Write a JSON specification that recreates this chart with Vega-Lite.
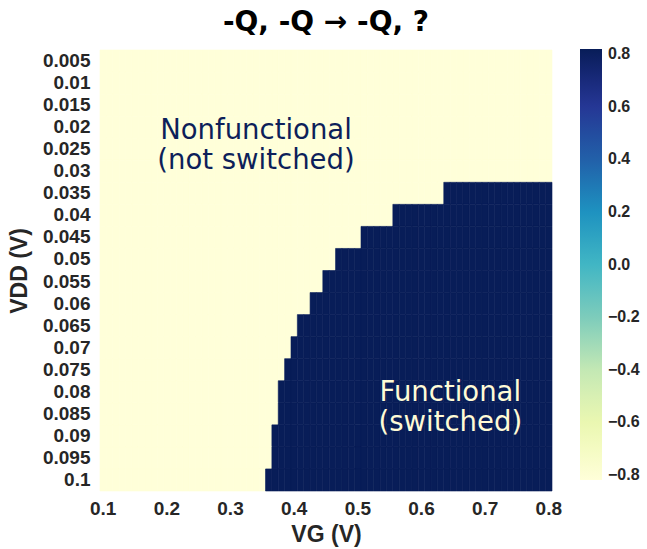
{
"$schema": "https://vega.github.io/schema/vega-lite/v6.json",
"width": 452,
"height": 441,
"autosize": "none",
"padding": {"left": 100, "top": 50, "right": 95, "bottom": 58},
"background": "white",
"config": {"view": {"stroke": null}},
"title": {"text": "-Q, -Q → -Q, ?", "font": "DejaVu Sans", "fontSize": 28, "fontWeight": "bold", "color": "black", "anchor": "middle", "offset": 12},
"layer": [
{
"data": {"values": [
{"vg":0.1,"vdd":0.005,"z":-0.82},{"vg":0.11,"vdd":0.005,"z":-0.82},{"vg":0.12,"vdd":0.005,"z":-0.82},{"vg":0.13,"vdd":0.005,"z":-0.82},{"vg":0.14,"vdd":0.005,"z":-0.82},{"vg":0.15,"vdd":0.005,"z":-0.82},{"vg":0.16,"vdd":0.005,"z":-0.82},{"vg":0.17,"vdd":0.005,"z":-0.82},{"vg":0.18,"vdd":0.005,"z":-0.82},{"vg":0.19,"vdd":0.005,"z":-0.82},
{"vg":0.2,"vdd":0.005,"z":-0.82},{"vg":0.21,"vdd":0.005,"z":-0.82},{"vg":0.22,"vdd":0.005,"z":-0.82},{"vg":0.23,"vdd":0.005,"z":-0.82},{"vg":0.24,"vdd":0.005,"z":-0.82},{"vg":0.25,"vdd":0.005,"z":-0.82},{"vg":0.26,"vdd":0.005,"z":-0.82},{"vg":0.27,"vdd":0.005,"z":-0.82},{"vg":0.28,"vdd":0.005,"z":-0.82},{"vg":0.29,"vdd":0.005,"z":-0.82},
{"vg":0.3,"vdd":0.005,"z":-0.82},{"vg":0.31,"vdd":0.005,"z":-0.82},{"vg":0.32,"vdd":0.005,"z":-0.82},{"vg":0.33,"vdd":0.005,"z":-0.82},{"vg":0.34,"vdd":0.005,"z":-0.82},{"vg":0.35,"vdd":0.005,"z":-0.82},{"vg":0.36,"vdd":0.005,"z":-0.82},{"vg":0.37,"vdd":0.005,"z":-0.82},{"vg":0.38,"vdd":0.005,"z":-0.82},{"vg":0.39,"vdd":0.005,"z":-0.82},
{"vg":0.4,"vdd":0.005,"z":-0.82},{"vg":0.41,"vdd":0.005,"z":-0.82},{"vg":0.42,"vdd":0.005,"z":-0.82},{"vg":0.43,"vdd":0.005,"z":-0.82},{"vg":0.44,"vdd":0.005,"z":-0.82},{"vg":0.45,"vdd":0.005,"z":-0.82},{"vg":0.46,"vdd":0.005,"z":-0.82},{"vg":0.47,"vdd":0.005,"z":-0.82},{"vg":0.48,"vdd":0.005,"z":-0.82},{"vg":0.49,"vdd":0.005,"z":-0.82},
{"vg":0.5,"vdd":0.005,"z":-0.82},{"vg":0.51,"vdd":0.005,"z":-0.82},{"vg":0.52,"vdd":0.005,"z":-0.82},{"vg":0.53,"vdd":0.005,"z":-0.82},{"vg":0.54,"vdd":0.005,"z":-0.82},{"vg":0.55,"vdd":0.005,"z":-0.82},{"vg":0.56,"vdd":0.005,"z":-0.82},{"vg":0.57,"vdd":0.005,"z":-0.82},{"vg":0.58,"vdd":0.005,"z":-0.82},{"vg":0.59,"vdd":0.005,"z":-0.82},
{"vg":0.6,"vdd":0.005,"z":-0.82},{"vg":0.61,"vdd":0.005,"z":-0.82},{"vg":0.62,"vdd":0.005,"z":-0.82},{"vg":0.63,"vdd":0.005,"z":-0.82},{"vg":0.64,"vdd":0.005,"z":-0.82},{"vg":0.65,"vdd":0.005,"z":-0.82},{"vg":0.66,"vdd":0.005,"z":-0.82},{"vg":0.67,"vdd":0.005,"z":-0.82},{"vg":0.68,"vdd":0.005,"z":-0.82},{"vg":0.69,"vdd":0.005,"z":-0.82},
{"vg":0.7,"vdd":0.005,"z":-0.82},{"vg":0.71,"vdd":0.005,"z":-0.82},{"vg":0.72,"vdd":0.005,"z":-0.82},{"vg":0.73,"vdd":0.005,"z":-0.82},{"vg":0.74,"vdd":0.005,"z":-0.82},{"vg":0.75,"vdd":0.005,"z":-0.82},{"vg":0.76,"vdd":0.005,"z":-0.82},{"vg":0.77,"vdd":0.005,"z":-0.82},{"vg":0.78,"vdd":0.005,"z":-0.82},{"vg":0.79,"vdd":0.005,"z":-0.82},{"vg":0.8,"vdd":0.005,"z":-0.82},
{"vg":0.1,"vdd":0.01,"z":-0.82},{"vg":0.11,"vdd":0.01,"z":-0.82},{"vg":0.12,"vdd":0.01,"z":-0.82},{"vg":0.13,"vdd":0.01,"z":-0.82},{"vg":0.14,"vdd":0.01,"z":-0.82},{"vg":0.15,"vdd":0.01,"z":-0.82},{"vg":0.16,"vdd":0.01,"z":-0.82},{"vg":0.17,"vdd":0.01,"z":-0.82},{"vg":0.18,"vdd":0.01,"z":-0.82},{"vg":0.19,"vdd":0.01,"z":-0.82},
{"vg":0.2,"vdd":0.01,"z":-0.82},{"vg":0.21,"vdd":0.01,"z":-0.82},{"vg":0.22,"vdd":0.01,"z":-0.82},{"vg":0.23,"vdd":0.01,"z":-0.82},{"vg":0.24,"vdd":0.01,"z":-0.82},{"vg":0.25,"vdd":0.01,"z":-0.82},{"vg":0.26,"vdd":0.01,"z":-0.82},{"vg":0.27,"vdd":0.01,"z":-0.82},{"vg":0.28,"vdd":0.01,"z":-0.82},{"vg":0.29,"vdd":0.01,"z":-0.82},
{"vg":0.3,"vdd":0.01,"z":-0.82},{"vg":0.31,"vdd":0.01,"z":-0.82},{"vg":0.32,"vdd":0.01,"z":-0.82},{"vg":0.33,"vdd":0.01,"z":-0.82},{"vg":0.34,"vdd":0.01,"z":-0.82},{"vg":0.35,"vdd":0.01,"z":-0.82},{"vg":0.36,"vdd":0.01,"z":-0.82},{"vg":0.37,"vdd":0.01,"z":-0.82},{"vg":0.38,"vdd":0.01,"z":-0.82},{"vg":0.39,"vdd":0.01,"z":-0.82},
{"vg":0.4,"vdd":0.01,"z":-0.82},{"vg":0.41,"vdd":0.01,"z":-0.82},{"vg":0.42,"vdd":0.01,"z":-0.82},{"vg":0.43,"vdd":0.01,"z":-0.82},{"vg":0.44,"vdd":0.01,"z":-0.82},{"vg":0.45,"vdd":0.01,"z":-0.82},{"vg":0.46,"vdd":0.01,"z":-0.82},{"vg":0.47,"vdd":0.01,"z":-0.82},{"vg":0.48,"vdd":0.01,"z":-0.82},{"vg":0.49,"vdd":0.01,"z":-0.82},
{"vg":0.5,"vdd":0.01,"z":-0.82},{"vg":0.51,"vdd":0.01,"z":-0.82},{"vg":0.52,"vdd":0.01,"z":-0.82},{"vg":0.53,"vdd":0.01,"z":-0.82},{"vg":0.54,"vdd":0.01,"z":-0.82},{"vg":0.55,"vdd":0.01,"z":-0.82},{"vg":0.56,"vdd":0.01,"z":-0.82},{"vg":0.57,"vdd":0.01,"z":-0.82},{"vg":0.58,"vdd":0.01,"z":-0.82},{"vg":0.59,"vdd":0.01,"z":-0.82},
{"vg":0.6,"vdd":0.01,"z":-0.82},{"vg":0.61,"vdd":0.01,"z":-0.82},{"vg":0.62,"vdd":0.01,"z":-0.82},{"vg":0.63,"vdd":0.01,"z":-0.82},{"vg":0.64,"vdd":0.01,"z":-0.82},{"vg":0.65,"vdd":0.01,"z":-0.82},{"vg":0.66,"vdd":0.01,"z":-0.82},{"vg":0.67,"vdd":0.01,"z":-0.82},{"vg":0.68,"vdd":0.01,"z":-0.82},{"vg":0.69,"vdd":0.01,"z":-0.82},
{"vg":0.7,"vdd":0.01,"z":-0.82},{"vg":0.71,"vdd":0.01,"z":-0.82},{"vg":0.72,"vdd":0.01,"z":-0.82},{"vg":0.73,"vdd":0.01,"z":-0.82},{"vg":0.74,"vdd":0.01,"z":-0.82},{"vg":0.75,"vdd":0.01,"z":-0.82},{"vg":0.76,"vdd":0.01,"z":-0.82},{"vg":0.77,"vdd":0.01,"z":-0.82},{"vg":0.78,"vdd":0.01,"z":-0.82},{"vg":0.79,"vdd":0.01,"z":-0.82},{"vg":0.8,"vdd":0.01,"z":-0.82},
{"vg":0.1,"vdd":0.015,"z":-0.82},{"vg":0.11,"vdd":0.015,"z":-0.82},{"vg":0.12,"vdd":0.015,"z":-0.82},{"vg":0.13,"vdd":0.015,"z":-0.82},{"vg":0.14,"vdd":0.015,"z":-0.82},{"vg":0.15,"vdd":0.015,"z":-0.82},{"vg":0.16,"vdd":0.015,"z":-0.82},{"vg":0.17,"vdd":0.015,"z":-0.82},{"vg":0.18,"vdd":0.015,"z":-0.82},{"vg":0.19,"vdd":0.015,"z":-0.82},
{"vg":0.2,"vdd":0.015,"z":-0.82},{"vg":0.21,"vdd":0.015,"z":-0.82},{"vg":0.22,"vdd":0.015,"z":-0.82},{"vg":0.23,"vdd":0.015,"z":-0.82},{"vg":0.24,"vdd":0.015,"z":-0.82},{"vg":0.25,"vdd":0.015,"z":-0.82},{"vg":0.26,"vdd":0.015,"z":-0.82},{"vg":0.27,"vdd":0.015,"z":-0.82},{"vg":0.28,"vdd":0.015,"z":-0.82},{"vg":0.29,"vdd":0.015,"z":-0.82},
{"vg":0.3,"vdd":0.015,"z":-0.82},{"vg":0.31,"vdd":0.015,"z":-0.82},{"vg":0.32,"vdd":0.015,"z":-0.82},{"vg":0.33,"vdd":0.015,"z":-0.82},{"vg":0.34,"vdd":0.015,"z":-0.82},{"vg":0.35,"vdd":0.015,"z":-0.82},{"vg":0.36,"vdd":0.015,"z":-0.82},{"vg":0.37,"vdd":0.015,"z":-0.82},{"vg":0.38,"vdd":0.015,"z":-0.82},{"vg":0.39,"vdd":0.015,"z":-0.82},
{"vg":0.4,"vdd":0.015,"z":-0.82},{"vg":0.41,"vdd":0.015,"z":-0.82},{"vg":0.42,"vdd":0.015,"z":-0.82},{"vg":0.43,"vdd":0.015,"z":-0.82},{"vg":0.44,"vdd":0.015,"z":-0.82},{"vg":0.45,"vdd":0.015,"z":-0.82},{"vg":0.46,"vdd":0.015,"z":-0.82},{"vg":0.47,"vdd":0.015,"z":-0.82},{"vg":0.48,"vdd":0.015,"z":-0.82},{"vg":0.49,"vdd":0.015,"z":-0.82},
{"vg":0.5,"vdd":0.015,"z":-0.82},{"vg":0.51,"vdd":0.015,"z":-0.82},{"vg":0.52,"vdd":0.015,"z":-0.82},{"vg":0.53,"vdd":0.015,"z":-0.82},{"vg":0.54,"vdd":0.015,"z":-0.82},{"vg":0.55,"vdd":0.015,"z":-0.82},{"vg":0.56,"vdd":0.015,"z":-0.82},{"vg":0.57,"vdd":0.015,"z":-0.82},{"vg":0.58,"vdd":0.015,"z":-0.82},{"vg":0.59,"vdd":0.015,"z":-0.82},
{"vg":0.6,"vdd":0.015,"z":-0.82},{"vg":0.61,"vdd":0.015,"z":-0.82},{"vg":0.62,"vdd":0.015,"z":-0.82},{"vg":0.63,"vdd":0.015,"z":-0.82},{"vg":0.64,"vdd":0.015,"z":-0.82},{"vg":0.65,"vdd":0.015,"z":-0.82},{"vg":0.66,"vdd":0.015,"z":-0.82},{"vg":0.67,"vdd":0.015,"z":-0.82},{"vg":0.68,"vdd":0.015,"z":-0.82},{"vg":0.69,"vdd":0.015,"z":-0.82},
{"vg":0.7,"vdd":0.015,"z":-0.82},{"vg":0.71,"vdd":0.015,"z":-0.82},{"vg":0.72,"vdd":0.015,"z":-0.82},{"vg":0.73,"vdd":0.015,"z":-0.82},{"vg":0.74,"vdd":0.015,"z":-0.82},{"vg":0.75,"vdd":0.015,"z":-0.82},{"vg":0.76,"vdd":0.015,"z":-0.82},{"vg":0.77,"vdd":0.015,"z":-0.82},{"vg":0.78,"vdd":0.015,"z":-0.82},{"vg":0.79,"vdd":0.015,"z":-0.82},{"vg":0.8,"vdd":0.015,"z":-0.82},
{"vg":0.1,"vdd":0.02,"z":-0.82},{"vg":0.11,"vdd":0.02,"z":-0.82},{"vg":0.12,"vdd":0.02,"z":-0.82},{"vg":0.13,"vdd":0.02,"z":-0.82},{"vg":0.14,"vdd":0.02,"z":-0.82},{"vg":0.15,"vdd":0.02,"z":-0.82},{"vg":0.16,"vdd":0.02,"z":-0.82},{"vg":0.17,"vdd":0.02,"z":-0.82},{"vg":0.18,"vdd":0.02,"z":-0.82},{"vg":0.19,"vdd":0.02,"z":-0.82},
{"vg":0.2,"vdd":0.02,"z":-0.82},{"vg":0.21,"vdd":0.02,"z":-0.82},{"vg":0.22,"vdd":0.02,"z":-0.82},{"vg":0.23,"vdd":0.02,"z":-0.82},{"vg":0.24,"vdd":0.02,"z":-0.82},{"vg":0.25,"vdd":0.02,"z":-0.82},{"vg":0.26,"vdd":0.02,"z":-0.82},{"vg":0.27,"vdd":0.02,"z":-0.82},{"vg":0.28,"vdd":0.02,"z":-0.82},{"vg":0.29,"vdd":0.02,"z":-0.82},
{"vg":0.3,"vdd":0.02,"z":-0.82},{"vg":0.31,"vdd":0.02,"z":-0.82},{"vg":0.32,"vdd":0.02,"z":-0.82},{"vg":0.33,"vdd":0.02,"z":-0.82},{"vg":0.34,"vdd":0.02,"z":-0.82},{"vg":0.35,"vdd":0.02,"z":-0.82},{"vg":0.36,"vdd":0.02,"z":-0.82},{"vg":0.37,"vdd":0.02,"z":-0.82},{"vg":0.38,"vdd":0.02,"z":-0.82},{"vg":0.39,"vdd":0.02,"z":-0.82},
{"vg":0.4,"vdd":0.02,"z":-0.82},{"vg":0.41,"vdd":0.02,"z":-0.82},{"vg":0.42,"vdd":0.02,"z":-0.82},{"vg":0.43,"vdd":0.02,"z":-0.82},{"vg":0.44,"vdd":0.02,"z":-0.82},{"vg":0.45,"vdd":0.02,"z":-0.82},{"vg":0.46,"vdd":0.02,"z":-0.82},{"vg":0.47,"vdd":0.02,"z":-0.82},{"vg":0.48,"vdd":0.02,"z":-0.82},{"vg":0.49,"vdd":0.02,"z":-0.82},
{"vg":0.5,"vdd":0.02,"z":-0.82},{"vg":0.51,"vdd":0.02,"z":-0.82},{"vg":0.52,"vdd":0.02,"z":-0.82},{"vg":0.53,"vdd":0.02,"z":-0.82},{"vg":0.54,"vdd":0.02,"z":-0.82},{"vg":0.55,"vdd":0.02,"z":-0.82},{"vg":0.56,"vdd":0.02,"z":-0.82},{"vg":0.57,"vdd":0.02,"z":-0.82},{"vg":0.58,"vdd":0.02,"z":-0.82},{"vg":0.59,"vdd":0.02,"z":-0.82},
{"vg":0.6,"vdd":0.02,"z":-0.82},{"vg":0.61,"vdd":0.02,"z":-0.82},{"vg":0.62,"vdd":0.02,"z":-0.82},{"vg":0.63,"vdd":0.02,"z":-0.82},{"vg":0.64,"vdd":0.02,"z":-0.82},{"vg":0.65,"vdd":0.02,"z":-0.82},{"vg":0.66,"vdd":0.02,"z":-0.82},{"vg":0.67,"vdd":0.02,"z":-0.82},{"vg":0.68,"vdd":0.02,"z":-0.82},{"vg":0.69,"vdd":0.02,"z":-0.82},
{"vg":0.7,"vdd":0.02,"z":-0.82},{"vg":0.71,"vdd":0.02,"z":-0.82},{"vg":0.72,"vdd":0.02,"z":-0.82},{"vg":0.73,"vdd":0.02,"z":-0.82},{"vg":0.74,"vdd":0.02,"z":-0.82},{"vg":0.75,"vdd":0.02,"z":-0.82},{"vg":0.76,"vdd":0.02,"z":-0.82},{"vg":0.77,"vdd":0.02,"z":-0.82},{"vg":0.78,"vdd":0.02,"z":-0.82},{"vg":0.79,"vdd":0.02,"z":-0.82},{"vg":0.8,"vdd":0.02,"z":-0.82},
{"vg":0.1,"vdd":0.025,"z":-0.82},{"vg":0.11,"vdd":0.025,"z":-0.82},{"vg":0.12,"vdd":0.025,"z":-0.82},{"vg":0.13,"vdd":0.025,"z":-0.82},{"vg":0.14,"vdd":0.025,"z":-0.82},{"vg":0.15,"vdd":0.025,"z":-0.82},{"vg":0.16,"vdd":0.025,"z":-0.82},{"vg":0.17,"vdd":0.025,"z":-0.82},{"vg":0.18,"vdd":0.025,"z":-0.82},{"vg":0.19,"vdd":0.025,"z":-0.82},
{"vg":0.2,"vdd":0.025,"z":-0.82},{"vg":0.21,"vdd":0.025,"z":-0.82},{"vg":0.22,"vdd":0.025,"z":-0.82},{"vg":0.23,"vdd":0.025,"z":-0.82},{"vg":0.24,"vdd":0.025,"z":-0.82},{"vg":0.25,"vdd":0.025,"z":-0.82},{"vg":0.26,"vdd":0.025,"z":-0.82},{"vg":0.27,"vdd":0.025,"z":-0.82},{"vg":0.28,"vdd":0.025,"z":-0.82},{"vg":0.29,"vdd":0.025,"z":-0.82},
{"vg":0.3,"vdd":0.025,"z":-0.82},{"vg":0.31,"vdd":0.025,"z":-0.82},{"vg":0.32,"vdd":0.025,"z":-0.82},{"vg":0.33,"vdd":0.025,"z":-0.82},{"vg":0.34,"vdd":0.025,"z":-0.82},{"vg":0.35,"vdd":0.025,"z":-0.82},{"vg":0.36,"vdd":0.025,"z":-0.82},{"vg":0.37,"vdd":0.025,"z":-0.82},{"vg":0.38,"vdd":0.025,"z":-0.82},{"vg":0.39,"vdd":0.025,"z":-0.82},
{"vg":0.4,"vdd":0.025,"z":-0.82},{"vg":0.41,"vdd":0.025,"z":-0.82},{"vg":0.42,"vdd":0.025,"z":-0.82},{"vg":0.43,"vdd":0.025,"z":-0.82},{"vg":0.44,"vdd":0.025,"z":-0.82},{"vg":0.45,"vdd":0.025,"z":-0.82},{"vg":0.46,"vdd":0.025,"z":-0.82},{"vg":0.47,"vdd":0.025,"z":-0.82},{"vg":0.48,"vdd":0.025,"z":-0.82},{"vg":0.49,"vdd":0.025,"z":-0.82},
{"vg":0.5,"vdd":0.025,"z":-0.82},{"vg":0.51,"vdd":0.025,"z":-0.82},{"vg":0.52,"vdd":0.025,"z":-0.82},{"vg":0.53,"vdd":0.025,"z":-0.82},{"vg":0.54,"vdd":0.025,"z":-0.82},{"vg":0.55,"vdd":0.025,"z":-0.82},{"vg":0.56,"vdd":0.025,"z":-0.82},{"vg":0.57,"vdd":0.025,"z":-0.82},{"vg":0.58,"vdd":0.025,"z":-0.82},{"vg":0.59,"vdd":0.025,"z":-0.82},
{"vg":0.6,"vdd":0.025,"z":-0.82},{"vg":0.61,"vdd":0.025,"z":-0.82},{"vg":0.62,"vdd":0.025,"z":-0.82},{"vg":0.63,"vdd":0.025,"z":-0.82},{"vg":0.64,"vdd":0.025,"z":-0.82},{"vg":0.65,"vdd":0.025,"z":-0.82},{"vg":0.66,"vdd":0.025,"z":-0.82},{"vg":0.67,"vdd":0.025,"z":-0.82},{"vg":0.68,"vdd":0.025,"z":-0.82},{"vg":0.69,"vdd":0.025,"z":-0.82},
{"vg":0.7,"vdd":0.025,"z":-0.82},{"vg":0.71,"vdd":0.025,"z":-0.82},{"vg":0.72,"vdd":0.025,"z":-0.82},{"vg":0.73,"vdd":0.025,"z":-0.82},{"vg":0.74,"vdd":0.025,"z":-0.82},{"vg":0.75,"vdd":0.025,"z":-0.82},{"vg":0.76,"vdd":0.025,"z":-0.82},{"vg":0.77,"vdd":0.025,"z":-0.82},{"vg":0.78,"vdd":0.025,"z":-0.82},{"vg":0.79,"vdd":0.025,"z":-0.82},{"vg":0.8,"vdd":0.025,"z":-0.82},
{"vg":0.1,"vdd":0.03,"z":-0.82},{"vg":0.11,"vdd":0.03,"z":-0.82},{"vg":0.12,"vdd":0.03,"z":-0.82},{"vg":0.13,"vdd":0.03,"z":-0.82},{"vg":0.14,"vdd":0.03,"z":-0.82},{"vg":0.15,"vdd":0.03,"z":-0.82},{"vg":0.16,"vdd":0.03,"z":-0.82},{"vg":0.17,"vdd":0.03,"z":-0.82},{"vg":0.18,"vdd":0.03,"z":-0.82},{"vg":0.19,"vdd":0.03,"z":-0.82},
{"vg":0.2,"vdd":0.03,"z":-0.82},{"vg":0.21,"vdd":0.03,"z":-0.82},{"vg":0.22,"vdd":0.03,"z":-0.82},{"vg":0.23,"vdd":0.03,"z":-0.82},{"vg":0.24,"vdd":0.03,"z":-0.82},{"vg":0.25,"vdd":0.03,"z":-0.82},{"vg":0.26,"vdd":0.03,"z":-0.82},{"vg":0.27,"vdd":0.03,"z":-0.82},{"vg":0.28,"vdd":0.03,"z":-0.82},{"vg":0.29,"vdd":0.03,"z":-0.82},
{"vg":0.3,"vdd":0.03,"z":-0.82},{"vg":0.31,"vdd":0.03,"z":-0.82},{"vg":0.32,"vdd":0.03,"z":-0.82},{"vg":0.33,"vdd":0.03,"z":-0.82},{"vg":0.34,"vdd":0.03,"z":-0.82},{"vg":0.35,"vdd":0.03,"z":-0.82},{"vg":0.36,"vdd":0.03,"z":-0.82},{"vg":0.37,"vdd":0.03,"z":-0.82},{"vg":0.38,"vdd":0.03,"z":-0.82},{"vg":0.39,"vdd":0.03,"z":-0.82},
{"vg":0.4,"vdd":0.03,"z":-0.82},{"vg":0.41,"vdd":0.03,"z":-0.82},{"vg":0.42,"vdd":0.03,"z":-0.82},{"vg":0.43,"vdd":0.03,"z":-0.82},{"vg":0.44,"vdd":0.03,"z":-0.82},{"vg":0.45,"vdd":0.03,"z":-0.82},{"vg":0.46,"vdd":0.03,"z":-0.82},{"vg":0.47,"vdd":0.03,"z":-0.82},{"vg":0.48,"vdd":0.03,"z":-0.82},{"vg":0.49,"vdd":0.03,"z":-0.82},
{"vg":0.5,"vdd":0.03,"z":-0.82},{"vg":0.51,"vdd":0.03,"z":-0.82},{"vg":0.52,"vdd":0.03,"z":-0.82},{"vg":0.53,"vdd":0.03,"z":-0.82},{"vg":0.54,"vdd":0.03,"z":-0.82},{"vg":0.55,"vdd":0.03,"z":-0.82},{"vg":0.56,"vdd":0.03,"z":-0.82},{"vg":0.57,"vdd":0.03,"z":-0.82},{"vg":0.58,"vdd":0.03,"z":-0.82},{"vg":0.59,"vdd":0.03,"z":-0.82},
{"vg":0.6,"vdd":0.03,"z":-0.82},{"vg":0.61,"vdd":0.03,"z":-0.82},{"vg":0.62,"vdd":0.03,"z":-0.82},{"vg":0.63,"vdd":0.03,"z":-0.82},{"vg":0.64,"vdd":0.03,"z":-0.82},{"vg":0.65,"vdd":0.03,"z":-0.82},{"vg":0.66,"vdd":0.03,"z":-0.82},{"vg":0.67,"vdd":0.03,"z":-0.82},{"vg":0.68,"vdd":0.03,"z":-0.82},{"vg":0.69,"vdd":0.03,"z":-0.82},
{"vg":0.7,"vdd":0.03,"z":-0.82},{"vg":0.71,"vdd":0.03,"z":-0.82},{"vg":0.72,"vdd":0.03,"z":-0.82},{"vg":0.73,"vdd":0.03,"z":-0.82},{"vg":0.74,"vdd":0.03,"z":-0.82},{"vg":0.75,"vdd":0.03,"z":-0.82},{"vg":0.76,"vdd":0.03,"z":-0.82},{"vg":0.77,"vdd":0.03,"z":-0.82},{"vg":0.78,"vdd":0.03,"z":-0.82},{"vg":0.79,"vdd":0.03,"z":-0.82},{"vg":0.8,"vdd":0.03,"z":-0.82},
{"vg":0.1,"vdd":0.035,"z":-0.82},{"vg":0.11,"vdd":0.035,"z":-0.82},{"vg":0.12,"vdd":0.035,"z":-0.82},{"vg":0.13,"vdd":0.035,"z":-0.82},{"vg":0.14,"vdd":0.035,"z":-0.82},{"vg":0.15,"vdd":0.035,"z":-0.82},{"vg":0.16,"vdd":0.035,"z":-0.82},{"vg":0.17,"vdd":0.035,"z":-0.82},{"vg":0.18,"vdd":0.035,"z":-0.82},{"vg":0.19,"vdd":0.035,"z":-0.82},
{"vg":0.2,"vdd":0.035,"z":-0.82},{"vg":0.21,"vdd":0.035,"z":-0.82},{"vg":0.22,"vdd":0.035,"z":-0.82},{"vg":0.23,"vdd":0.035,"z":-0.82},{"vg":0.24,"vdd":0.035,"z":-0.82},{"vg":0.25,"vdd":0.035,"z":-0.82},{"vg":0.26,"vdd":0.035,"z":-0.82},{"vg":0.27,"vdd":0.035,"z":-0.82},{"vg":0.28,"vdd":0.035,"z":-0.82},{"vg":0.29,"vdd":0.035,"z":-0.82},
{"vg":0.3,"vdd":0.035,"z":-0.82},{"vg":0.31,"vdd":0.035,"z":-0.82},{"vg":0.32,"vdd":0.035,"z":-0.82},{"vg":0.33,"vdd":0.035,"z":-0.82},{"vg":0.34,"vdd":0.035,"z":-0.82},{"vg":0.35,"vdd":0.035,"z":-0.82},{"vg":0.36,"vdd":0.035,"z":-0.82},{"vg":0.37,"vdd":0.035,"z":-0.82},{"vg":0.38,"vdd":0.035,"z":-0.82},{"vg":0.39,"vdd":0.035,"z":-0.82},
{"vg":0.4,"vdd":0.035,"z":-0.82},{"vg":0.41,"vdd":0.035,"z":-0.82},{"vg":0.42,"vdd":0.035,"z":-0.82},{"vg":0.43,"vdd":0.035,"z":-0.82},{"vg":0.44,"vdd":0.035,"z":-0.82},{"vg":0.45,"vdd":0.035,"z":-0.82},{"vg":0.46,"vdd":0.035,"z":-0.82},{"vg":0.47,"vdd":0.035,"z":-0.82},{"vg":0.48,"vdd":0.035,"z":-0.82},{"vg":0.49,"vdd":0.035,"z":-0.82},
{"vg":0.5,"vdd":0.035,"z":-0.82},{"vg":0.51,"vdd":0.035,"z":-0.82},{"vg":0.52,"vdd":0.035,"z":-0.82},{"vg":0.53,"vdd":0.035,"z":-0.82},{"vg":0.54,"vdd":0.035,"z":-0.82},{"vg":0.55,"vdd":0.035,"z":-0.82},{"vg":0.56,"vdd":0.035,"z":-0.82},{"vg":0.57,"vdd":0.035,"z":-0.82},{"vg":0.58,"vdd":0.035,"z":-0.82},{"vg":0.59,"vdd":0.035,"z":-0.82},
{"vg":0.6,"vdd":0.035,"z":-0.82},{"vg":0.61,"vdd":0.035,"z":-0.82},{"vg":0.62,"vdd":0.035,"z":-0.82},{"vg":0.63,"vdd":0.035,"z":-0.82},{"vg":0.64,"vdd":0.035,"z":0.82},{"vg":0.65,"vdd":0.035,"z":0.82},{"vg":0.66,"vdd":0.035,"z":0.82},{"vg":0.67,"vdd":0.035,"z":0.82},{"vg":0.68,"vdd":0.035,"z":0.82},{"vg":0.69,"vdd":0.035,"z":0.82},
{"vg":0.7,"vdd":0.035,"z":0.82},{"vg":0.71,"vdd":0.035,"z":0.82},{"vg":0.72,"vdd":0.035,"z":0.82},{"vg":0.73,"vdd":0.035,"z":0.82},{"vg":0.74,"vdd":0.035,"z":0.82},{"vg":0.75,"vdd":0.035,"z":0.82},{"vg":0.76,"vdd":0.035,"z":0.82},{"vg":0.77,"vdd":0.035,"z":0.82},{"vg":0.78,"vdd":0.035,"z":0.82},{"vg":0.79,"vdd":0.035,"z":0.82},{"vg":0.8,"vdd":0.035,"z":0.82},
{"vg":0.1,"vdd":0.04,"z":-0.82},{"vg":0.11,"vdd":0.04,"z":-0.82},{"vg":0.12,"vdd":0.04,"z":-0.82},{"vg":0.13,"vdd":0.04,"z":-0.82},{"vg":0.14,"vdd":0.04,"z":-0.82},{"vg":0.15,"vdd":0.04,"z":-0.82},{"vg":0.16,"vdd":0.04,"z":-0.82},{"vg":0.17,"vdd":0.04,"z":-0.82},{"vg":0.18,"vdd":0.04,"z":-0.82},{"vg":0.19,"vdd":0.04,"z":-0.82},
{"vg":0.2,"vdd":0.04,"z":-0.82},{"vg":0.21,"vdd":0.04,"z":-0.82},{"vg":0.22,"vdd":0.04,"z":-0.82},{"vg":0.23,"vdd":0.04,"z":-0.82},{"vg":0.24,"vdd":0.04,"z":-0.82},{"vg":0.25,"vdd":0.04,"z":-0.82},{"vg":0.26,"vdd":0.04,"z":-0.82},{"vg":0.27,"vdd":0.04,"z":-0.82},{"vg":0.28,"vdd":0.04,"z":-0.82},{"vg":0.29,"vdd":0.04,"z":-0.82},
{"vg":0.3,"vdd":0.04,"z":-0.82},{"vg":0.31,"vdd":0.04,"z":-0.82},{"vg":0.32,"vdd":0.04,"z":-0.82},{"vg":0.33,"vdd":0.04,"z":-0.82},{"vg":0.34,"vdd":0.04,"z":-0.82},{"vg":0.35,"vdd":0.04,"z":-0.82},{"vg":0.36,"vdd":0.04,"z":-0.82},{"vg":0.37,"vdd":0.04,"z":-0.82},{"vg":0.38,"vdd":0.04,"z":-0.82},{"vg":0.39,"vdd":0.04,"z":-0.82},
{"vg":0.4,"vdd":0.04,"z":-0.82},{"vg":0.41,"vdd":0.04,"z":-0.82},{"vg":0.42,"vdd":0.04,"z":-0.82},{"vg":0.43,"vdd":0.04,"z":-0.82},{"vg":0.44,"vdd":0.04,"z":-0.82},{"vg":0.45,"vdd":0.04,"z":-0.82},{"vg":0.46,"vdd":0.04,"z":-0.82},{"vg":0.47,"vdd":0.04,"z":-0.82},{"vg":0.48,"vdd":0.04,"z":-0.82},{"vg":0.49,"vdd":0.04,"z":-0.82},
{"vg":0.5,"vdd":0.04,"z":-0.82},{"vg":0.51,"vdd":0.04,"z":-0.82},{"vg":0.52,"vdd":0.04,"z":-0.82},{"vg":0.53,"vdd":0.04,"z":-0.82},{"vg":0.54,"vdd":0.04,"z":-0.82},{"vg":0.55,"vdd":0.04,"z":-0.82},{"vg":0.56,"vdd":0.04,"z":0.82},{"vg":0.57,"vdd":0.04,"z":0.82},{"vg":0.58,"vdd":0.04,"z":0.82},{"vg":0.59,"vdd":0.04,"z":0.82},
{"vg":0.6,"vdd":0.04,"z":0.82},{"vg":0.61,"vdd":0.04,"z":0.82},{"vg":0.62,"vdd":0.04,"z":0.82},{"vg":0.63,"vdd":0.04,"z":0.82},{"vg":0.64,"vdd":0.04,"z":0.82},{"vg":0.65,"vdd":0.04,"z":0.82},{"vg":0.66,"vdd":0.04,"z":0.82},{"vg":0.67,"vdd":0.04,"z":0.82},{"vg":0.68,"vdd":0.04,"z":0.82},{"vg":0.69,"vdd":0.04,"z":0.82},
{"vg":0.7,"vdd":0.04,"z":0.82},{"vg":0.71,"vdd":0.04,"z":0.82},{"vg":0.72,"vdd":0.04,"z":0.82},{"vg":0.73,"vdd":0.04,"z":0.82},{"vg":0.74,"vdd":0.04,"z":0.82},{"vg":0.75,"vdd":0.04,"z":0.82},{"vg":0.76,"vdd":0.04,"z":0.82},{"vg":0.77,"vdd":0.04,"z":0.82},{"vg":0.78,"vdd":0.04,"z":0.82},{"vg":0.79,"vdd":0.04,"z":0.82},{"vg":0.8,"vdd":0.04,"z":0.82},
{"vg":0.1,"vdd":0.045,"z":-0.82},{"vg":0.11,"vdd":0.045,"z":-0.82},{"vg":0.12,"vdd":0.045,"z":-0.82},{"vg":0.13,"vdd":0.045,"z":-0.82},{"vg":0.14,"vdd":0.045,"z":-0.82},{"vg":0.15,"vdd":0.045,"z":-0.82},{"vg":0.16,"vdd":0.045,"z":-0.82},{"vg":0.17,"vdd":0.045,"z":-0.82},{"vg":0.18,"vdd":0.045,"z":-0.82},{"vg":0.19,"vdd":0.045,"z":-0.82},
{"vg":0.2,"vdd":0.045,"z":-0.82},{"vg":0.21,"vdd":0.045,"z":-0.82},{"vg":0.22,"vdd":0.045,"z":-0.82},{"vg":0.23,"vdd":0.045,"z":-0.82},{"vg":0.24,"vdd":0.045,"z":-0.82},{"vg":0.25,"vdd":0.045,"z":-0.82},{"vg":0.26,"vdd":0.045,"z":-0.82},{"vg":0.27,"vdd":0.045,"z":-0.82},{"vg":0.28,"vdd":0.045,"z":-0.82},{"vg":0.29,"vdd":0.045,"z":-0.82},
{"vg":0.3,"vdd":0.045,"z":-0.82},{"vg":0.31,"vdd":0.045,"z":-0.82},{"vg":0.32,"vdd":0.045,"z":-0.82},{"vg":0.33,"vdd":0.045,"z":-0.82},{"vg":0.34,"vdd":0.045,"z":-0.82},{"vg":0.35,"vdd":0.045,"z":-0.82},{"vg":0.36,"vdd":0.045,"z":-0.82},{"vg":0.37,"vdd":0.045,"z":-0.82},{"vg":0.38,"vdd":0.045,"z":-0.82},{"vg":0.39,"vdd":0.045,"z":-0.82},
{"vg":0.4,"vdd":0.045,"z":-0.82},{"vg":0.41,"vdd":0.045,"z":-0.82},{"vg":0.42,"vdd":0.045,"z":-0.82},{"vg":0.43,"vdd":0.045,"z":-0.82},{"vg":0.44,"vdd":0.045,"z":-0.82},{"vg":0.45,"vdd":0.045,"z":-0.82},{"vg":0.46,"vdd":0.045,"z":-0.82},{"vg":0.47,"vdd":0.045,"z":-0.82},{"vg":0.48,"vdd":0.045,"z":-0.82},{"vg":0.49,"vdd":0.045,"z":-0.82},
{"vg":0.5,"vdd":0.045,"z":-0.82},{"vg":0.51,"vdd":0.045,"z":0.82},{"vg":0.52,"vdd":0.045,"z":0.82},{"vg":0.53,"vdd":0.045,"z":0.82},{"vg":0.54,"vdd":0.045,"z":0.82},{"vg":0.55,"vdd":0.045,"z":0.82},{"vg":0.56,"vdd":0.045,"z":0.82},{"vg":0.57,"vdd":0.045,"z":0.82},{"vg":0.58,"vdd":0.045,"z":0.82},{"vg":0.59,"vdd":0.045,"z":0.82},
{"vg":0.6,"vdd":0.045,"z":0.82},{"vg":0.61,"vdd":0.045,"z":0.82},{"vg":0.62,"vdd":0.045,"z":0.82},{"vg":0.63,"vdd":0.045,"z":0.82},{"vg":0.64,"vdd":0.045,"z":0.82},{"vg":0.65,"vdd":0.045,"z":0.82},{"vg":0.66,"vdd":0.045,"z":0.82},{"vg":0.67,"vdd":0.045,"z":0.82},{"vg":0.68,"vdd":0.045,"z":0.82},{"vg":0.69,"vdd":0.045,"z":0.82},
{"vg":0.7,"vdd":0.045,"z":0.82},{"vg":0.71,"vdd":0.045,"z":0.82},{"vg":0.72,"vdd":0.045,"z":0.82},{"vg":0.73,"vdd":0.045,"z":0.82},{"vg":0.74,"vdd":0.045,"z":0.82},{"vg":0.75,"vdd":0.045,"z":0.82},{"vg":0.76,"vdd":0.045,"z":0.82},{"vg":0.77,"vdd":0.045,"z":0.82},{"vg":0.78,"vdd":0.045,"z":0.82},{"vg":0.79,"vdd":0.045,"z":0.82},{"vg":0.8,"vdd":0.045,"z":0.82},
{"vg":0.1,"vdd":0.05,"z":-0.82},{"vg":0.11,"vdd":0.05,"z":-0.82},{"vg":0.12,"vdd":0.05,"z":-0.82},{"vg":0.13,"vdd":0.05,"z":-0.82},{"vg":0.14,"vdd":0.05,"z":-0.82},{"vg":0.15,"vdd":0.05,"z":-0.82},{"vg":0.16,"vdd":0.05,"z":-0.82},{"vg":0.17,"vdd":0.05,"z":-0.82},{"vg":0.18,"vdd":0.05,"z":-0.82},{"vg":0.19,"vdd":0.05,"z":-0.82},
{"vg":0.2,"vdd":0.05,"z":-0.82},{"vg":0.21,"vdd":0.05,"z":-0.82},{"vg":0.22,"vdd":0.05,"z":-0.82},{"vg":0.23,"vdd":0.05,"z":-0.82},{"vg":0.24,"vdd":0.05,"z":-0.82},{"vg":0.25,"vdd":0.05,"z":-0.82},{"vg":0.26,"vdd":0.05,"z":-0.82},{"vg":0.27,"vdd":0.05,"z":-0.82},{"vg":0.28,"vdd":0.05,"z":-0.82},{"vg":0.29,"vdd":0.05,"z":-0.82},
{"vg":0.3,"vdd":0.05,"z":-0.82},{"vg":0.31,"vdd":0.05,"z":-0.82},{"vg":0.32,"vdd":0.05,"z":-0.82},{"vg":0.33,"vdd":0.05,"z":-0.82},{"vg":0.34,"vdd":0.05,"z":-0.82},{"vg":0.35,"vdd":0.05,"z":-0.82},{"vg":0.36,"vdd":0.05,"z":-0.82},{"vg":0.37,"vdd":0.05,"z":-0.82},{"vg":0.38,"vdd":0.05,"z":-0.82},{"vg":0.39,"vdd":0.05,"z":-0.82},
{"vg":0.4,"vdd":0.05,"z":-0.82},{"vg":0.41,"vdd":0.05,"z":-0.82},{"vg":0.42,"vdd":0.05,"z":-0.82},{"vg":0.43,"vdd":0.05,"z":-0.82},{"vg":0.44,"vdd":0.05,"z":-0.82},{"vg":0.45,"vdd":0.05,"z":-0.82},{"vg":0.46,"vdd":0.05,"z":-0.82},{"vg":0.47,"vdd":0.05,"z":0.82},{"vg":0.48,"vdd":0.05,"z":0.82},{"vg":0.49,"vdd":0.05,"z":0.82},
{"vg":0.5,"vdd":0.05,"z":0.82},{"vg":0.51,"vdd":0.05,"z":0.82},{"vg":0.52,"vdd":0.05,"z":0.82},{"vg":0.53,"vdd":0.05,"z":0.82},{"vg":0.54,"vdd":0.05,"z":0.82},{"vg":0.55,"vdd":0.05,"z":0.82},{"vg":0.56,"vdd":0.05,"z":0.82},{"vg":0.57,"vdd":0.05,"z":0.82},{"vg":0.58,"vdd":0.05,"z":0.82},{"vg":0.59,"vdd":0.05,"z":0.82},
{"vg":0.6,"vdd":0.05,"z":0.82},{"vg":0.61,"vdd":0.05,"z":0.82},{"vg":0.62,"vdd":0.05,"z":0.82},{"vg":0.63,"vdd":0.05,"z":0.82},{"vg":0.64,"vdd":0.05,"z":0.82},{"vg":0.65,"vdd":0.05,"z":0.82},{"vg":0.66,"vdd":0.05,"z":0.82},{"vg":0.67,"vdd":0.05,"z":0.82},{"vg":0.68,"vdd":0.05,"z":0.82},{"vg":0.69,"vdd":0.05,"z":0.82},
{"vg":0.7,"vdd":0.05,"z":0.82},{"vg":0.71,"vdd":0.05,"z":0.82},{"vg":0.72,"vdd":0.05,"z":0.82},{"vg":0.73,"vdd":0.05,"z":0.82},{"vg":0.74,"vdd":0.05,"z":0.82},{"vg":0.75,"vdd":0.05,"z":0.82},{"vg":0.76,"vdd":0.05,"z":0.82},{"vg":0.77,"vdd":0.05,"z":0.82},{"vg":0.78,"vdd":0.05,"z":0.82},{"vg":0.79,"vdd":0.05,"z":0.82},{"vg":0.8,"vdd":0.05,"z":0.82},
{"vg":0.1,"vdd":0.055,"z":-0.82},{"vg":0.11,"vdd":0.055,"z":-0.82},{"vg":0.12,"vdd":0.055,"z":-0.82},{"vg":0.13,"vdd":0.055,"z":-0.82},{"vg":0.14,"vdd":0.055,"z":-0.82},{"vg":0.15,"vdd":0.055,"z":-0.82},{"vg":0.16,"vdd":0.055,"z":-0.82},{"vg":0.17,"vdd":0.055,"z":-0.82},{"vg":0.18,"vdd":0.055,"z":-0.82},{"vg":0.19,"vdd":0.055,"z":-0.82},
{"vg":0.2,"vdd":0.055,"z":-0.82},{"vg":0.21,"vdd":0.055,"z":-0.82},{"vg":0.22,"vdd":0.055,"z":-0.82},{"vg":0.23,"vdd":0.055,"z":-0.82},{"vg":0.24,"vdd":0.055,"z":-0.82},{"vg":0.25,"vdd":0.055,"z":-0.82},{"vg":0.26,"vdd":0.055,"z":-0.82},{"vg":0.27,"vdd":0.055,"z":-0.82},{"vg":0.28,"vdd":0.055,"z":-0.82},{"vg":0.29,"vdd":0.055,"z":-0.82},
{"vg":0.3,"vdd":0.055,"z":-0.82},{"vg":0.31,"vdd":0.055,"z":-0.82},{"vg":0.32,"vdd":0.055,"z":-0.82},{"vg":0.33,"vdd":0.055,"z":-0.82},{"vg":0.34,"vdd":0.055,"z":-0.82},{"vg":0.35,"vdd":0.055,"z":-0.82},{"vg":0.36,"vdd":0.055,"z":-0.82},{"vg":0.37,"vdd":0.055,"z":-0.82},{"vg":0.38,"vdd":0.055,"z":-0.82},{"vg":0.39,"vdd":0.055,"z":-0.82},
{"vg":0.4,"vdd":0.055,"z":-0.82},{"vg":0.41,"vdd":0.055,"z":-0.82},{"vg":0.42,"vdd":0.055,"z":-0.82},{"vg":0.43,"vdd":0.055,"z":-0.82},{"vg":0.44,"vdd":0.055,"z":-0.82},{"vg":0.45,"vdd":0.055,"z":0.82},{"vg":0.46,"vdd":0.055,"z":0.82},{"vg":0.47,"vdd":0.055,"z":0.82},{"vg":0.48,"vdd":0.055,"z":0.82},{"vg":0.49,"vdd":0.055,"z":0.82},
{"vg":0.5,"vdd":0.055,"z":0.82},{"vg":0.51,"vdd":0.055,"z":0.82},{"vg":0.52,"vdd":0.055,"z":0.82},{"vg":0.53,"vdd":0.055,"z":0.82},{"vg":0.54,"vdd":0.055,"z":0.82},{"vg":0.55,"vdd":0.055,"z":0.82},{"vg":0.56,"vdd":0.055,"z":0.82},{"vg":0.57,"vdd":0.055,"z":0.82},{"vg":0.58,"vdd":0.055,"z":0.82},{"vg":0.59,"vdd":0.055,"z":0.82},
{"vg":0.6,"vdd":0.055,"z":0.82},{"vg":0.61,"vdd":0.055,"z":0.82},{"vg":0.62,"vdd":0.055,"z":0.82},{"vg":0.63,"vdd":0.055,"z":0.82},{"vg":0.64,"vdd":0.055,"z":0.82},{"vg":0.65,"vdd":0.055,"z":0.82},{"vg":0.66,"vdd":0.055,"z":0.82},{"vg":0.67,"vdd":0.055,"z":0.82},{"vg":0.68,"vdd":0.055,"z":0.82},{"vg":0.69,"vdd":0.055,"z":0.82},
{"vg":0.7,"vdd":0.055,"z":0.82},{"vg":0.71,"vdd":0.055,"z":0.82},{"vg":0.72,"vdd":0.055,"z":0.82},{"vg":0.73,"vdd":0.055,"z":0.82},{"vg":0.74,"vdd":0.055,"z":0.82},{"vg":0.75,"vdd":0.055,"z":0.82},{"vg":0.76,"vdd":0.055,"z":0.82},{"vg":0.77,"vdd":0.055,"z":0.82},{"vg":0.78,"vdd":0.055,"z":0.82},{"vg":0.79,"vdd":0.055,"z":0.82},{"vg":0.8,"vdd":0.055,"z":0.82},
{"vg":0.1,"vdd":0.06,"z":-0.82},{"vg":0.11,"vdd":0.06,"z":-0.82},{"vg":0.12,"vdd":0.06,"z":-0.82},{"vg":0.13,"vdd":0.06,"z":-0.82},{"vg":0.14,"vdd":0.06,"z":-0.82},{"vg":0.15,"vdd":0.06,"z":-0.82},{"vg":0.16,"vdd":0.06,"z":-0.82},{"vg":0.17,"vdd":0.06,"z":-0.82},{"vg":0.18,"vdd":0.06,"z":-0.82},{"vg":0.19,"vdd":0.06,"z":-0.82},
{"vg":0.2,"vdd":0.06,"z":-0.82},{"vg":0.21,"vdd":0.06,"z":-0.82},{"vg":0.22,"vdd":0.06,"z":-0.82},{"vg":0.23,"vdd":0.06,"z":-0.82},{"vg":0.24,"vdd":0.06,"z":-0.82},{"vg":0.25,"vdd":0.06,"z":-0.82},{"vg":0.26,"vdd":0.06,"z":-0.82},{"vg":0.27,"vdd":0.06,"z":-0.82},{"vg":0.28,"vdd":0.06,"z":-0.82},{"vg":0.29,"vdd":0.06,"z":-0.82},
{"vg":0.3,"vdd":0.06,"z":-0.82},{"vg":0.31,"vdd":0.06,"z":-0.82},{"vg":0.32,"vdd":0.06,"z":-0.82},{"vg":0.33,"vdd":0.06,"z":-0.82},{"vg":0.34,"vdd":0.06,"z":-0.82},{"vg":0.35,"vdd":0.06,"z":-0.82},{"vg":0.36,"vdd":0.06,"z":-0.82},{"vg":0.37,"vdd":0.06,"z":-0.82},{"vg":0.38,"vdd":0.06,"z":-0.82},{"vg":0.39,"vdd":0.06,"z":-0.82},
{"vg":0.4,"vdd":0.06,"z":-0.82},{"vg":0.41,"vdd":0.06,"z":-0.82},{"vg":0.42,"vdd":0.06,"z":-0.82},{"vg":0.43,"vdd":0.06,"z":0.82},{"vg":0.44,"vdd":0.06,"z":0.82},{"vg":0.45,"vdd":0.06,"z":0.82},{"vg":0.46,"vdd":0.06,"z":0.82},{"vg":0.47,"vdd":0.06,"z":0.82},{"vg":0.48,"vdd":0.06,"z":0.82},{"vg":0.49,"vdd":0.06,"z":0.82},
{"vg":0.5,"vdd":0.06,"z":0.82},{"vg":0.51,"vdd":0.06,"z":0.82},{"vg":0.52,"vdd":0.06,"z":0.82},{"vg":0.53,"vdd":0.06,"z":0.82},{"vg":0.54,"vdd":0.06,"z":0.82},{"vg":0.55,"vdd":0.06,"z":0.82},{"vg":0.56,"vdd":0.06,"z":0.82},{"vg":0.57,"vdd":0.06,"z":0.82},{"vg":0.58,"vdd":0.06,"z":0.82},{"vg":0.59,"vdd":0.06,"z":0.82},
{"vg":0.6,"vdd":0.06,"z":0.82},{"vg":0.61,"vdd":0.06,"z":0.82},{"vg":0.62,"vdd":0.06,"z":0.82},{"vg":0.63,"vdd":0.06,"z":0.82},{"vg":0.64,"vdd":0.06,"z":0.82},{"vg":0.65,"vdd":0.06,"z":0.82},{"vg":0.66,"vdd":0.06,"z":0.82},{"vg":0.67,"vdd":0.06,"z":0.82},{"vg":0.68,"vdd":0.06,"z":0.82},{"vg":0.69,"vdd":0.06,"z":0.82},
{"vg":0.7,"vdd":0.06,"z":0.82},{"vg":0.71,"vdd":0.06,"z":0.82},{"vg":0.72,"vdd":0.06,"z":0.82},{"vg":0.73,"vdd":0.06,"z":0.82},{"vg":0.74,"vdd":0.06,"z":0.82},{"vg":0.75,"vdd":0.06,"z":0.82},{"vg":0.76,"vdd":0.06,"z":0.82},{"vg":0.77,"vdd":0.06,"z":0.82},{"vg":0.78,"vdd":0.06,"z":0.82},{"vg":0.79,"vdd":0.06,"z":0.82},{"vg":0.8,"vdd":0.06,"z":0.82},
{"vg":0.1,"vdd":0.065,"z":-0.82},{"vg":0.11,"vdd":0.065,"z":-0.82},{"vg":0.12,"vdd":0.065,"z":-0.82},{"vg":0.13,"vdd":0.065,"z":-0.82},{"vg":0.14,"vdd":0.065,"z":-0.82},{"vg":0.15,"vdd":0.065,"z":-0.82},{"vg":0.16,"vdd":0.065,"z":-0.82},{"vg":0.17,"vdd":0.065,"z":-0.82},{"vg":0.18,"vdd":0.065,"z":-0.82},{"vg":0.19,"vdd":0.065,"z":-0.82},
{"vg":0.2,"vdd":0.065,"z":-0.82},{"vg":0.21,"vdd":0.065,"z":-0.82},{"vg":0.22,"vdd":0.065,"z":-0.82},{"vg":0.23,"vdd":0.065,"z":-0.82},{"vg":0.24,"vdd":0.065,"z":-0.82},{"vg":0.25,"vdd":0.065,"z":-0.82},{"vg":0.26,"vdd":0.065,"z":-0.82},{"vg":0.27,"vdd":0.065,"z":-0.82},{"vg":0.28,"vdd":0.065,"z":-0.82},{"vg":0.29,"vdd":0.065,"z":-0.82},
{"vg":0.3,"vdd":0.065,"z":-0.82},{"vg":0.31,"vdd":0.065,"z":-0.82},{"vg":0.32,"vdd":0.065,"z":-0.82},{"vg":0.33,"vdd":0.065,"z":-0.82},{"vg":0.34,"vdd":0.065,"z":-0.82},{"vg":0.35,"vdd":0.065,"z":-0.82},{"vg":0.36,"vdd":0.065,"z":-0.82},{"vg":0.37,"vdd":0.065,"z":-0.82},{"vg":0.38,"vdd":0.065,"z":-0.82},{"vg":0.39,"vdd":0.065,"z":-0.82},
{"vg":0.4,"vdd":0.065,"z":-0.82},{"vg":0.41,"vdd":0.065,"z":0.82},{"vg":0.42,"vdd":0.065,"z":0.82},{"vg":0.43,"vdd":0.065,"z":0.82},{"vg":0.44,"vdd":0.065,"z":0.82},{"vg":0.45,"vdd":0.065,"z":0.82},{"vg":0.46,"vdd":0.065,"z":0.82},{"vg":0.47,"vdd":0.065,"z":0.82},{"vg":0.48,"vdd":0.065,"z":0.82},{"vg":0.49,"vdd":0.065,"z":0.82},
{"vg":0.5,"vdd":0.065,"z":0.82},{"vg":0.51,"vdd":0.065,"z":0.82},{"vg":0.52,"vdd":0.065,"z":0.82},{"vg":0.53,"vdd":0.065,"z":0.82},{"vg":0.54,"vdd":0.065,"z":0.82},{"vg":0.55,"vdd":0.065,"z":0.82},{"vg":0.56,"vdd":0.065,"z":0.82},{"vg":0.57,"vdd":0.065,"z":0.82},{"vg":0.58,"vdd":0.065,"z":0.82},{"vg":0.59,"vdd":0.065,"z":0.82},
{"vg":0.6,"vdd":0.065,"z":0.82},{"vg":0.61,"vdd":0.065,"z":0.82},{"vg":0.62,"vdd":0.065,"z":0.82},{"vg":0.63,"vdd":0.065,"z":0.82},{"vg":0.64,"vdd":0.065,"z":0.82},{"vg":0.65,"vdd":0.065,"z":0.82},{"vg":0.66,"vdd":0.065,"z":0.82},{"vg":0.67,"vdd":0.065,"z":0.82},{"vg":0.68,"vdd":0.065,"z":0.82},{"vg":0.69,"vdd":0.065,"z":0.82},
{"vg":0.7,"vdd":0.065,"z":0.82},{"vg":0.71,"vdd":0.065,"z":0.82},{"vg":0.72,"vdd":0.065,"z":0.82},{"vg":0.73,"vdd":0.065,"z":0.82},{"vg":0.74,"vdd":0.065,"z":0.82},{"vg":0.75,"vdd":0.065,"z":0.82},{"vg":0.76,"vdd":0.065,"z":0.82},{"vg":0.77,"vdd":0.065,"z":0.82},{"vg":0.78,"vdd":0.065,"z":0.82},{"vg":0.79,"vdd":0.065,"z":0.82},{"vg":0.8,"vdd":0.065,"z":0.82},
{"vg":0.1,"vdd":0.07,"z":-0.82},{"vg":0.11,"vdd":0.07,"z":-0.82},{"vg":0.12,"vdd":0.07,"z":-0.82},{"vg":0.13,"vdd":0.07,"z":-0.82},{"vg":0.14,"vdd":0.07,"z":-0.82},{"vg":0.15,"vdd":0.07,"z":-0.82},{"vg":0.16,"vdd":0.07,"z":-0.82},{"vg":0.17,"vdd":0.07,"z":-0.82},{"vg":0.18,"vdd":0.07,"z":-0.82},{"vg":0.19,"vdd":0.07,"z":-0.82},
{"vg":0.2,"vdd":0.07,"z":-0.82},{"vg":0.21,"vdd":0.07,"z":-0.82},{"vg":0.22,"vdd":0.07,"z":-0.82},{"vg":0.23,"vdd":0.07,"z":-0.82},{"vg":0.24,"vdd":0.07,"z":-0.82},{"vg":0.25,"vdd":0.07,"z":-0.82},{"vg":0.26,"vdd":0.07,"z":-0.82},{"vg":0.27,"vdd":0.07,"z":-0.82},{"vg":0.28,"vdd":0.07,"z":-0.82},{"vg":0.29,"vdd":0.07,"z":-0.82},
{"vg":0.3,"vdd":0.07,"z":-0.82},{"vg":0.31,"vdd":0.07,"z":-0.82},{"vg":0.32,"vdd":0.07,"z":-0.82},{"vg":0.33,"vdd":0.07,"z":-0.82},{"vg":0.34,"vdd":0.07,"z":-0.82},{"vg":0.35,"vdd":0.07,"z":-0.82},{"vg":0.36,"vdd":0.07,"z":-0.82},{"vg":0.37,"vdd":0.07,"z":-0.82},{"vg":0.38,"vdd":0.07,"z":-0.82},{"vg":0.39,"vdd":0.07,"z":-0.82},
{"vg":0.4,"vdd":0.07,"z":0.82},{"vg":0.41,"vdd":0.07,"z":0.82},{"vg":0.42,"vdd":0.07,"z":0.82},{"vg":0.43,"vdd":0.07,"z":0.82},{"vg":0.44,"vdd":0.07,"z":0.82},{"vg":0.45,"vdd":0.07,"z":0.82},{"vg":0.46,"vdd":0.07,"z":0.82},{"vg":0.47,"vdd":0.07,"z":0.82},{"vg":0.48,"vdd":0.07,"z":0.82},{"vg":0.49,"vdd":0.07,"z":0.82},
{"vg":0.5,"vdd":0.07,"z":0.82},{"vg":0.51,"vdd":0.07,"z":0.82},{"vg":0.52,"vdd":0.07,"z":0.82},{"vg":0.53,"vdd":0.07,"z":0.82},{"vg":0.54,"vdd":0.07,"z":0.82},{"vg":0.55,"vdd":0.07,"z":0.82},{"vg":0.56,"vdd":0.07,"z":0.82},{"vg":0.57,"vdd":0.07,"z":0.82},{"vg":0.58,"vdd":0.07,"z":0.82},{"vg":0.59,"vdd":0.07,"z":0.82},
{"vg":0.6,"vdd":0.07,"z":0.82},{"vg":0.61,"vdd":0.07,"z":0.82},{"vg":0.62,"vdd":0.07,"z":0.82},{"vg":0.63,"vdd":0.07,"z":0.82},{"vg":0.64,"vdd":0.07,"z":0.82},{"vg":0.65,"vdd":0.07,"z":0.82},{"vg":0.66,"vdd":0.07,"z":0.82},{"vg":0.67,"vdd":0.07,"z":0.82},{"vg":0.68,"vdd":0.07,"z":0.82},{"vg":0.69,"vdd":0.07,"z":0.82},
{"vg":0.7,"vdd":0.07,"z":0.82},{"vg":0.71,"vdd":0.07,"z":0.82},{"vg":0.72,"vdd":0.07,"z":0.82},{"vg":0.73,"vdd":0.07,"z":0.82},{"vg":0.74,"vdd":0.07,"z":0.82},{"vg":0.75,"vdd":0.07,"z":0.82},{"vg":0.76,"vdd":0.07,"z":0.82},{"vg":0.77,"vdd":0.07,"z":0.82},{"vg":0.78,"vdd":0.07,"z":0.82},{"vg":0.79,"vdd":0.07,"z":0.82},{"vg":0.8,"vdd":0.07,"z":0.82},
{"vg":0.1,"vdd":0.075,"z":-0.82},{"vg":0.11,"vdd":0.075,"z":-0.82},{"vg":0.12,"vdd":0.075,"z":-0.82},{"vg":0.13,"vdd":0.075,"z":-0.82},{"vg":0.14,"vdd":0.075,"z":-0.82},{"vg":0.15,"vdd":0.075,"z":-0.82},{"vg":0.16,"vdd":0.075,"z":-0.82},{"vg":0.17,"vdd":0.075,"z":-0.82},{"vg":0.18,"vdd":0.075,"z":-0.82},{"vg":0.19,"vdd":0.075,"z":-0.82},
{"vg":0.2,"vdd":0.075,"z":-0.82},{"vg":0.21,"vdd":0.075,"z":-0.82},{"vg":0.22,"vdd":0.075,"z":-0.82},{"vg":0.23,"vdd":0.075,"z":-0.82},{"vg":0.24,"vdd":0.075,"z":-0.82},{"vg":0.25,"vdd":0.075,"z":-0.82},{"vg":0.26,"vdd":0.075,"z":-0.82},{"vg":0.27,"vdd":0.075,"z":-0.82},{"vg":0.28,"vdd":0.075,"z":-0.82},{"vg":0.29,"vdd":0.075,"z":-0.82},
{"vg":0.3,"vdd":0.075,"z":-0.82},{"vg":0.31,"vdd":0.075,"z":-0.82},{"vg":0.32,"vdd":0.075,"z":-0.82},{"vg":0.33,"vdd":0.075,"z":-0.82},{"vg":0.34,"vdd":0.075,"z":-0.82},{"vg":0.35,"vdd":0.075,"z":-0.82},{"vg":0.36,"vdd":0.075,"z":-0.82},{"vg":0.37,"vdd":0.075,"z":-0.82},{"vg":0.38,"vdd":0.075,"z":-0.82},{"vg":0.39,"vdd":0.075,"z":0.82},
{"vg":0.4,"vdd":0.075,"z":0.82},{"vg":0.41,"vdd":0.075,"z":0.82},{"vg":0.42,"vdd":0.075,"z":0.82},{"vg":0.43,"vdd":0.075,"z":0.82},{"vg":0.44,"vdd":0.075,"z":0.82},{"vg":0.45,"vdd":0.075,"z":0.82},{"vg":0.46,"vdd":0.075,"z":0.82},{"vg":0.47,"vdd":0.075,"z":0.82},{"vg":0.48,"vdd":0.075,"z":0.82},{"vg":0.49,"vdd":0.075,"z":0.82},
{"vg":0.5,"vdd":0.075,"z":0.82},{"vg":0.51,"vdd":0.075,"z":0.82},{"vg":0.52,"vdd":0.075,"z":0.82},{"vg":0.53,"vdd":0.075,"z":0.82},{"vg":0.54,"vdd":0.075,"z":0.82},{"vg":0.55,"vdd":0.075,"z":0.82},{"vg":0.56,"vdd":0.075,"z":0.82},{"vg":0.57,"vdd":0.075,"z":0.82},{"vg":0.58,"vdd":0.075,"z":0.82},{"vg":0.59,"vdd":0.075,"z":0.82},
{"vg":0.6,"vdd":0.075,"z":0.82},{"vg":0.61,"vdd":0.075,"z":0.82},{"vg":0.62,"vdd":0.075,"z":0.82},{"vg":0.63,"vdd":0.075,"z":0.82},{"vg":0.64,"vdd":0.075,"z":0.82},{"vg":0.65,"vdd":0.075,"z":0.82},{"vg":0.66,"vdd":0.075,"z":0.82},{"vg":0.67,"vdd":0.075,"z":0.82},{"vg":0.68,"vdd":0.075,"z":0.82},{"vg":0.69,"vdd":0.075,"z":0.82},
{"vg":0.7,"vdd":0.075,"z":0.82},{"vg":0.71,"vdd":0.075,"z":0.82},{"vg":0.72,"vdd":0.075,"z":0.82},{"vg":0.73,"vdd":0.075,"z":0.82},{"vg":0.74,"vdd":0.075,"z":0.82},{"vg":0.75,"vdd":0.075,"z":0.82},{"vg":0.76,"vdd":0.075,"z":0.82},{"vg":0.77,"vdd":0.075,"z":0.82},{"vg":0.78,"vdd":0.075,"z":0.82},{"vg":0.79,"vdd":0.075,"z":0.82},{"vg":0.8,"vdd":0.075,"z":0.82},
{"vg":0.1,"vdd":0.08,"z":-0.82},{"vg":0.11,"vdd":0.08,"z":-0.82},{"vg":0.12,"vdd":0.08,"z":-0.82},{"vg":0.13,"vdd":0.08,"z":-0.82},{"vg":0.14,"vdd":0.08,"z":-0.82},{"vg":0.15,"vdd":0.08,"z":-0.82},{"vg":0.16,"vdd":0.08,"z":-0.82},{"vg":0.17,"vdd":0.08,"z":-0.82},{"vg":0.18,"vdd":0.08,"z":-0.82},{"vg":0.19,"vdd":0.08,"z":-0.82},
{"vg":0.2,"vdd":0.08,"z":-0.82},{"vg":0.21,"vdd":0.08,"z":-0.82},{"vg":0.22,"vdd":0.08,"z":-0.82},{"vg":0.23,"vdd":0.08,"z":-0.82},{"vg":0.24,"vdd":0.08,"z":-0.82},{"vg":0.25,"vdd":0.08,"z":-0.82},{"vg":0.26,"vdd":0.08,"z":-0.82},{"vg":0.27,"vdd":0.08,"z":-0.82},{"vg":0.28,"vdd":0.08,"z":-0.82},{"vg":0.29,"vdd":0.08,"z":-0.82},
{"vg":0.3,"vdd":0.08,"z":-0.82},{"vg":0.31,"vdd":0.08,"z":-0.82},{"vg":0.32,"vdd":0.08,"z":-0.82},{"vg":0.33,"vdd":0.08,"z":-0.82},{"vg":0.34,"vdd":0.08,"z":-0.82},{"vg":0.35,"vdd":0.08,"z":-0.82},{"vg":0.36,"vdd":0.08,"z":-0.82},{"vg":0.37,"vdd":0.08,"z":-0.82},{"vg":0.38,"vdd":0.08,"z":0.82},{"vg":0.39,"vdd":0.08,"z":0.82},
{"vg":0.4,"vdd":0.08,"z":0.82},{"vg":0.41,"vdd":0.08,"z":0.82},{"vg":0.42,"vdd":0.08,"z":0.82},{"vg":0.43,"vdd":0.08,"z":0.82},{"vg":0.44,"vdd":0.08,"z":0.82},{"vg":0.45,"vdd":0.08,"z":0.82},{"vg":0.46,"vdd":0.08,"z":0.82},{"vg":0.47,"vdd":0.08,"z":0.82},{"vg":0.48,"vdd":0.08,"z":0.82},{"vg":0.49,"vdd":0.08,"z":0.82},
{"vg":0.5,"vdd":0.08,"z":0.82},{"vg":0.51,"vdd":0.08,"z":0.82},{"vg":0.52,"vdd":0.08,"z":0.82},{"vg":0.53,"vdd":0.08,"z":0.82},{"vg":0.54,"vdd":0.08,"z":0.82},{"vg":0.55,"vdd":0.08,"z":0.82},{"vg":0.56,"vdd":0.08,"z":0.82},{"vg":0.57,"vdd":0.08,"z":0.82},{"vg":0.58,"vdd":0.08,"z":0.82},{"vg":0.59,"vdd":0.08,"z":0.82},
{"vg":0.6,"vdd":0.08,"z":0.82},{"vg":0.61,"vdd":0.08,"z":0.82},{"vg":0.62,"vdd":0.08,"z":0.82},{"vg":0.63,"vdd":0.08,"z":0.82},{"vg":0.64,"vdd":0.08,"z":0.82},{"vg":0.65,"vdd":0.08,"z":0.82},{"vg":0.66,"vdd":0.08,"z":0.82},{"vg":0.67,"vdd":0.08,"z":0.82},{"vg":0.68,"vdd":0.08,"z":0.82},{"vg":0.69,"vdd":0.08,"z":0.82},
{"vg":0.7,"vdd":0.08,"z":0.82},{"vg":0.71,"vdd":0.08,"z":0.82},{"vg":0.72,"vdd":0.08,"z":0.82},{"vg":0.73,"vdd":0.08,"z":0.82},{"vg":0.74,"vdd":0.08,"z":0.82},{"vg":0.75,"vdd":0.08,"z":0.82},{"vg":0.76,"vdd":0.08,"z":0.82},{"vg":0.77,"vdd":0.08,"z":0.82},{"vg":0.78,"vdd":0.08,"z":0.82},{"vg":0.79,"vdd":0.08,"z":0.82},{"vg":0.8,"vdd":0.08,"z":0.82},
{"vg":0.1,"vdd":0.085,"z":-0.82},{"vg":0.11,"vdd":0.085,"z":-0.82},{"vg":0.12,"vdd":0.085,"z":-0.82},{"vg":0.13,"vdd":0.085,"z":-0.82},{"vg":0.14,"vdd":0.085,"z":-0.82},{"vg":0.15,"vdd":0.085,"z":-0.82},{"vg":0.16,"vdd":0.085,"z":-0.82},{"vg":0.17,"vdd":0.085,"z":-0.82},{"vg":0.18,"vdd":0.085,"z":-0.82},{"vg":0.19,"vdd":0.085,"z":-0.82},
{"vg":0.2,"vdd":0.085,"z":-0.82},{"vg":0.21,"vdd":0.085,"z":-0.82},{"vg":0.22,"vdd":0.085,"z":-0.82},{"vg":0.23,"vdd":0.085,"z":-0.82},{"vg":0.24,"vdd":0.085,"z":-0.82},{"vg":0.25,"vdd":0.085,"z":-0.82},{"vg":0.26,"vdd":0.085,"z":-0.82},{"vg":0.27,"vdd":0.085,"z":-0.82},{"vg":0.28,"vdd":0.085,"z":-0.82},{"vg":0.29,"vdd":0.085,"z":-0.82},
{"vg":0.3,"vdd":0.085,"z":-0.82},{"vg":0.31,"vdd":0.085,"z":-0.82},{"vg":0.32,"vdd":0.085,"z":-0.82},{"vg":0.33,"vdd":0.085,"z":-0.82},{"vg":0.34,"vdd":0.085,"z":-0.82},{"vg":0.35,"vdd":0.085,"z":-0.82},{"vg":0.36,"vdd":0.085,"z":-0.82},{"vg":0.37,"vdd":0.085,"z":-0.82},{"vg":0.38,"vdd":0.085,"z":0.82},{"vg":0.39,"vdd":0.085,"z":0.82},
{"vg":0.4,"vdd":0.085,"z":0.82},{"vg":0.41,"vdd":0.085,"z":0.82},{"vg":0.42,"vdd":0.085,"z":0.82},{"vg":0.43,"vdd":0.085,"z":0.82},{"vg":0.44,"vdd":0.085,"z":0.82},{"vg":0.45,"vdd":0.085,"z":0.82},{"vg":0.46,"vdd":0.085,"z":0.82},{"vg":0.47,"vdd":0.085,"z":0.82},{"vg":0.48,"vdd":0.085,"z":0.82},{"vg":0.49,"vdd":0.085,"z":0.82},
{"vg":0.5,"vdd":0.085,"z":0.82},{"vg":0.51,"vdd":0.085,"z":0.82},{"vg":0.52,"vdd":0.085,"z":0.82},{"vg":0.53,"vdd":0.085,"z":0.82},{"vg":0.54,"vdd":0.085,"z":0.82},{"vg":0.55,"vdd":0.085,"z":0.82},{"vg":0.56,"vdd":0.085,"z":0.82},{"vg":0.57,"vdd":0.085,"z":0.82},{"vg":0.58,"vdd":0.085,"z":0.82},{"vg":0.59,"vdd":0.085,"z":0.82},
{"vg":0.6,"vdd":0.085,"z":0.82},{"vg":0.61,"vdd":0.085,"z":0.82},{"vg":0.62,"vdd":0.085,"z":0.82},{"vg":0.63,"vdd":0.085,"z":0.82},{"vg":0.64,"vdd":0.085,"z":0.82},{"vg":0.65,"vdd":0.085,"z":0.82},{"vg":0.66,"vdd":0.085,"z":0.82},{"vg":0.67,"vdd":0.085,"z":0.82},{"vg":0.68,"vdd":0.085,"z":0.82},{"vg":0.69,"vdd":0.085,"z":0.82},
{"vg":0.7,"vdd":0.085,"z":0.82},{"vg":0.71,"vdd":0.085,"z":0.82},{"vg":0.72,"vdd":0.085,"z":0.82},{"vg":0.73,"vdd":0.085,"z":0.82},{"vg":0.74,"vdd":0.085,"z":0.82},{"vg":0.75,"vdd":0.085,"z":0.82},{"vg":0.76,"vdd":0.085,"z":0.82},{"vg":0.77,"vdd":0.085,"z":0.82},{"vg":0.78,"vdd":0.085,"z":0.82},{"vg":0.79,"vdd":0.085,"z":0.82},{"vg":0.8,"vdd":0.085,"z":0.82},
{"vg":0.1,"vdd":0.09,"z":-0.82},{"vg":0.11,"vdd":0.09,"z":-0.82},{"vg":0.12,"vdd":0.09,"z":-0.82},{"vg":0.13,"vdd":0.09,"z":-0.82},{"vg":0.14,"vdd":0.09,"z":-0.82},{"vg":0.15,"vdd":0.09,"z":-0.82},{"vg":0.16,"vdd":0.09,"z":-0.82},{"vg":0.17,"vdd":0.09,"z":-0.82},{"vg":0.18,"vdd":0.09,"z":-0.82},{"vg":0.19,"vdd":0.09,"z":-0.82},
{"vg":0.2,"vdd":0.09,"z":-0.82},{"vg":0.21,"vdd":0.09,"z":-0.82},{"vg":0.22,"vdd":0.09,"z":-0.82},{"vg":0.23,"vdd":0.09,"z":-0.82},{"vg":0.24,"vdd":0.09,"z":-0.82},{"vg":0.25,"vdd":0.09,"z":-0.82},{"vg":0.26,"vdd":0.09,"z":-0.82},{"vg":0.27,"vdd":0.09,"z":-0.82},{"vg":0.28,"vdd":0.09,"z":-0.82},{"vg":0.29,"vdd":0.09,"z":-0.82},
{"vg":0.3,"vdd":0.09,"z":-0.82},{"vg":0.31,"vdd":0.09,"z":-0.82},{"vg":0.32,"vdd":0.09,"z":-0.82},{"vg":0.33,"vdd":0.09,"z":-0.82},{"vg":0.34,"vdd":0.09,"z":-0.82},{"vg":0.35,"vdd":0.09,"z":-0.82},{"vg":0.36,"vdd":0.09,"z":-0.82},{"vg":0.37,"vdd":0.09,"z":0.82},{"vg":0.38,"vdd":0.09,"z":0.82},{"vg":0.39,"vdd":0.09,"z":0.82},
{"vg":0.4,"vdd":0.09,"z":0.82},{"vg":0.41,"vdd":0.09,"z":0.82},{"vg":0.42,"vdd":0.09,"z":0.82},{"vg":0.43,"vdd":0.09,"z":0.82},{"vg":0.44,"vdd":0.09,"z":0.82},{"vg":0.45,"vdd":0.09,"z":0.82},{"vg":0.46,"vdd":0.09,"z":0.82},{"vg":0.47,"vdd":0.09,"z":0.82},{"vg":0.48,"vdd":0.09,"z":0.82},{"vg":0.49,"vdd":0.09,"z":0.82},
{"vg":0.5,"vdd":0.09,"z":0.82},{"vg":0.51,"vdd":0.09,"z":0.82},{"vg":0.52,"vdd":0.09,"z":0.82},{"vg":0.53,"vdd":0.09,"z":0.82},{"vg":0.54,"vdd":0.09,"z":0.82},{"vg":0.55,"vdd":0.09,"z":0.82},{"vg":0.56,"vdd":0.09,"z":0.82},{"vg":0.57,"vdd":0.09,"z":0.82},{"vg":0.58,"vdd":0.09,"z":0.82},{"vg":0.59,"vdd":0.09,"z":0.82},
{"vg":0.6,"vdd":0.09,"z":0.82},{"vg":0.61,"vdd":0.09,"z":0.82},{"vg":0.62,"vdd":0.09,"z":0.82},{"vg":0.63,"vdd":0.09,"z":0.82},{"vg":0.64,"vdd":0.09,"z":0.82},{"vg":0.65,"vdd":0.09,"z":0.82},{"vg":0.66,"vdd":0.09,"z":0.82},{"vg":0.67,"vdd":0.09,"z":0.82},{"vg":0.68,"vdd":0.09,"z":0.82},{"vg":0.69,"vdd":0.09,"z":0.82},
{"vg":0.7,"vdd":0.09,"z":0.82},{"vg":0.71,"vdd":0.09,"z":0.82},{"vg":0.72,"vdd":0.09,"z":0.82},{"vg":0.73,"vdd":0.09,"z":0.82},{"vg":0.74,"vdd":0.09,"z":0.82},{"vg":0.75,"vdd":0.09,"z":0.82},{"vg":0.76,"vdd":0.09,"z":0.82},{"vg":0.77,"vdd":0.09,"z":0.82},{"vg":0.78,"vdd":0.09,"z":0.82},{"vg":0.79,"vdd":0.09,"z":0.82},{"vg":0.8,"vdd":0.09,"z":0.82},
{"vg":0.1,"vdd":0.095,"z":-0.82},{"vg":0.11,"vdd":0.095,"z":-0.82},{"vg":0.12,"vdd":0.095,"z":-0.82},{"vg":0.13,"vdd":0.095,"z":-0.82},{"vg":0.14,"vdd":0.095,"z":-0.82},{"vg":0.15,"vdd":0.095,"z":-0.82},{"vg":0.16,"vdd":0.095,"z":-0.82},{"vg":0.17,"vdd":0.095,"z":-0.82},{"vg":0.18,"vdd":0.095,"z":-0.82},{"vg":0.19,"vdd":0.095,"z":-0.82},
{"vg":0.2,"vdd":0.095,"z":-0.82},{"vg":0.21,"vdd":0.095,"z":-0.82},{"vg":0.22,"vdd":0.095,"z":-0.82},{"vg":0.23,"vdd":0.095,"z":-0.82},{"vg":0.24,"vdd":0.095,"z":-0.82},{"vg":0.25,"vdd":0.095,"z":-0.82},{"vg":0.26,"vdd":0.095,"z":-0.82},{"vg":0.27,"vdd":0.095,"z":-0.82},{"vg":0.28,"vdd":0.095,"z":-0.82},{"vg":0.29,"vdd":0.095,"z":-0.82},
{"vg":0.3,"vdd":0.095,"z":-0.82},{"vg":0.31,"vdd":0.095,"z":-0.82},{"vg":0.32,"vdd":0.095,"z":-0.82},{"vg":0.33,"vdd":0.095,"z":-0.82},{"vg":0.34,"vdd":0.095,"z":-0.82},{"vg":0.35,"vdd":0.095,"z":-0.82},{"vg":0.36,"vdd":0.095,"z":-0.82},{"vg":0.37,"vdd":0.095,"z":0.82},{"vg":0.38,"vdd":0.095,"z":0.82},{"vg":0.39,"vdd":0.095,"z":0.82},
{"vg":0.4,"vdd":0.095,"z":0.82},{"vg":0.41,"vdd":0.095,"z":0.82},{"vg":0.42,"vdd":0.095,"z":0.82},{"vg":0.43,"vdd":0.095,"z":0.82},{"vg":0.44,"vdd":0.095,"z":0.82},{"vg":0.45,"vdd":0.095,"z":0.82},{"vg":0.46,"vdd":0.095,"z":0.82},{"vg":0.47,"vdd":0.095,"z":0.82},{"vg":0.48,"vdd":0.095,"z":0.82},{"vg":0.49,"vdd":0.095,"z":0.82},
{"vg":0.5,"vdd":0.095,"z":0.82},{"vg":0.51,"vdd":0.095,"z":0.82},{"vg":0.52,"vdd":0.095,"z":0.82},{"vg":0.53,"vdd":0.095,"z":0.82},{"vg":0.54,"vdd":0.095,"z":0.82},{"vg":0.55,"vdd":0.095,"z":0.82},{"vg":0.56,"vdd":0.095,"z":0.82},{"vg":0.57,"vdd":0.095,"z":0.82},{"vg":0.58,"vdd":0.095,"z":0.82},{"vg":0.59,"vdd":0.095,"z":0.82},
{"vg":0.6,"vdd":0.095,"z":0.82},{"vg":0.61,"vdd":0.095,"z":0.82},{"vg":0.62,"vdd":0.095,"z":0.82},{"vg":0.63,"vdd":0.095,"z":0.82},{"vg":0.64,"vdd":0.095,"z":0.82},{"vg":0.65,"vdd":0.095,"z":0.82},{"vg":0.66,"vdd":0.095,"z":0.82},{"vg":0.67,"vdd":0.095,"z":0.82},{"vg":0.68,"vdd":0.095,"z":0.82},{"vg":0.69,"vdd":0.095,"z":0.82},
{"vg":0.7,"vdd":0.095,"z":0.82},{"vg":0.71,"vdd":0.095,"z":0.82},{"vg":0.72,"vdd":0.095,"z":0.82},{"vg":0.73,"vdd":0.095,"z":0.82},{"vg":0.74,"vdd":0.095,"z":0.82},{"vg":0.75,"vdd":0.095,"z":0.82},{"vg":0.76,"vdd":0.095,"z":0.82},{"vg":0.77,"vdd":0.095,"z":0.82},{"vg":0.78,"vdd":0.095,"z":0.82},{"vg":0.79,"vdd":0.095,"z":0.82},{"vg":0.8,"vdd":0.095,"z":0.82},
{"vg":0.1,"vdd":0.1,"z":-0.82},{"vg":0.11,"vdd":0.1,"z":-0.82},{"vg":0.12,"vdd":0.1,"z":-0.82},{"vg":0.13,"vdd":0.1,"z":-0.82},{"vg":0.14,"vdd":0.1,"z":-0.82},{"vg":0.15,"vdd":0.1,"z":-0.82},{"vg":0.16,"vdd":0.1,"z":-0.82},{"vg":0.17,"vdd":0.1,"z":-0.82},{"vg":0.18,"vdd":0.1,"z":-0.82},{"vg":0.19,"vdd":0.1,"z":-0.82},
{"vg":0.2,"vdd":0.1,"z":-0.82},{"vg":0.21,"vdd":0.1,"z":-0.82},{"vg":0.22,"vdd":0.1,"z":-0.82},{"vg":0.23,"vdd":0.1,"z":-0.82},{"vg":0.24,"vdd":0.1,"z":-0.82},{"vg":0.25,"vdd":0.1,"z":-0.82},{"vg":0.26,"vdd":0.1,"z":-0.82},{"vg":0.27,"vdd":0.1,"z":-0.82},{"vg":0.28,"vdd":0.1,"z":-0.82},{"vg":0.29,"vdd":0.1,"z":-0.82},
{"vg":0.3,"vdd":0.1,"z":-0.82},{"vg":0.31,"vdd":0.1,"z":-0.82},{"vg":0.32,"vdd":0.1,"z":-0.82},{"vg":0.33,"vdd":0.1,"z":-0.82},{"vg":0.34,"vdd":0.1,"z":-0.82},{"vg":0.35,"vdd":0.1,"z":-0.82},{"vg":0.36,"vdd":0.1,"z":0.82},{"vg":0.37,"vdd":0.1,"z":0.82},{"vg":0.38,"vdd":0.1,"z":0.82},{"vg":0.39,"vdd":0.1,"z":0.82},
{"vg":0.4,"vdd":0.1,"z":0.82},{"vg":0.41,"vdd":0.1,"z":0.82},{"vg":0.42,"vdd":0.1,"z":0.82},{"vg":0.43,"vdd":0.1,"z":0.82},{"vg":0.44,"vdd":0.1,"z":0.82},{"vg":0.45,"vdd":0.1,"z":0.82},{"vg":0.46,"vdd":0.1,"z":0.82},{"vg":0.47,"vdd":0.1,"z":0.82},{"vg":0.48,"vdd":0.1,"z":0.82},{"vg":0.49,"vdd":0.1,"z":0.82},
{"vg":0.5,"vdd":0.1,"z":0.82},{"vg":0.51,"vdd":0.1,"z":0.82},{"vg":0.52,"vdd":0.1,"z":0.82},{"vg":0.53,"vdd":0.1,"z":0.82},{"vg":0.54,"vdd":0.1,"z":0.82},{"vg":0.55,"vdd":0.1,"z":0.82},{"vg":0.56,"vdd":0.1,"z":0.82},{"vg":0.57,"vdd":0.1,"z":0.82},{"vg":0.58,"vdd":0.1,"z":0.82},{"vg":0.59,"vdd":0.1,"z":0.82},
{"vg":0.6,"vdd":0.1,"z":0.82},{"vg":0.61,"vdd":0.1,"z":0.82},{"vg":0.62,"vdd":0.1,"z":0.82},{"vg":0.63,"vdd":0.1,"z":0.82},{"vg":0.64,"vdd":0.1,"z":0.82},{"vg":0.65,"vdd":0.1,"z":0.82},{"vg":0.66,"vdd":0.1,"z":0.82},{"vg":0.67,"vdd":0.1,"z":0.82},{"vg":0.68,"vdd":0.1,"z":0.82},{"vg":0.69,"vdd":0.1,"z":0.82},
{"vg":0.7,"vdd":0.1,"z":0.82},{"vg":0.71,"vdd":0.1,"z":0.82},{"vg":0.72,"vdd":0.1,"z":0.82},{"vg":0.73,"vdd":0.1,"z":0.82},{"vg":0.74,"vdd":0.1,"z":0.82},{"vg":0.75,"vdd":0.1,"z":0.82},{"vg":0.76,"vdd":0.1,"z":0.82},{"vg":0.77,"vdd":0.1,"z":0.82},{"vg":0.78,"vdd":0.1,"z":0.82},{"vg":0.79,"vdd":0.1,"z":0.82},{"vg":0.8,"vdd":0.1,"z":0.82}
]},
"mark": {"type": "rect", "strokeWidth": 0.6},
"encoding": {
"x": {"field": "vg", "type": "ordinal", "sort": "ascending", "scale": {"paddingInner": 0, "paddingOuter": 0},
"axis": {"values": [0.1, 0.2, 0.3, 0.4, 0.5, 0.6, 0.7, 0.8], "labelAngle": 0, "ticks": false, "domain": false, "labelOverlap": false, "labelFont": "Liberation Sans", "labelFontSize": 19, "labelFontWeight": "bold", "labelColor": "#262626", "labelPadding": 8, "title": "VG (V)", "titleFont": "Liberation Sans", "titleFontSize": 23, "titleFontWeight": "bold", "titleColor": "#262626", "titlePadding": 5}},
"y": {"field": "vdd", "type": "ordinal", "sort": "ascending", "scale": {"paddingInner": 0, "paddingOuter": 0},
"axis": {"ticks": false, "domain": false, "labelOverlap": false, "labelFont": "Liberation Sans", "labelFontSize": 19, "labelFontWeight": "bold", "labelColor": "#262626", "labelPadding": 10, "title": "VDD (V)", "titleFont": "Liberation Sans", "titleFontSize": 23, "titleFontWeight": "bold", "titleColor": "#262626", "titlePadding": 11}},
"color": {"field": "z", "type": "quantitative",
"scale": {"domain": [-0.82, 0.82], "range": ["#ffffd9", "#edf8b1", "#c7e9b4", "#7fcdbb", "#41b6c4", "#1d91c0", "#225ea8", "#253494", "#081d58"], "interpolate": "rgb"},
"legend": {"orient": "none", "legendX": 480, "legendY": -1, "direction": "vertical", "gradientLength": 431, "gradientThickness": 22, "gradientStrokeWidth": 0, "title": null, "values": [-0.8, -0.6, -0.4, -0.2, 0, 0.2, 0.4, 0.6, 0.8], "format": ".1f", "labelOverlap": false, "labelFont": "Liberation Sans", "labelFontSize": 16, "labelFontWeight": "bold", "labelColor": "#262626", "labelOffset": 6}},
"stroke": {"condition": {"test": "datum.z > 0", "value": "#081d58"}, "value": "#ffffd9"}
}
},
{
"data": {"values": [{"vg": 0.34, "vdd": 0.025, "label": "Nonfunctional\n(not switched)"}]},
"mark": {"type": "text", "font": "DejaVu Sans", "fontSize": 27.5, "color": "#0d1f5a", "lineBreak": "\n", "lineHeight": 30, "baseline": "middle", "align": "center", "dy": -18},
"encoding": {"x": {"field": "vg", "type": "ordinal"}, "y": {"field": "vdd", "type": "ordinal"}, "text": {"field": "label"}}
},
{
"data": {"values": [{"vg": 0.65, "vdd": 0.085, "label": "Functional\n(switched)"}]},
"mark": {"type": "text", "font": "DejaVu Sans", "fontSize": 27.5, "color": "#fffbd6", "lineBreak": "\n", "lineHeight": 30, "baseline": "middle", "align": "center", "dx": -3, "dy": -21},
"encoding": {"x": {"field": "vg", "type": "ordinal"}, "y": {"field": "vdd", "type": "ordinal"}, "text": {"field": "label"}}
}
]
}
